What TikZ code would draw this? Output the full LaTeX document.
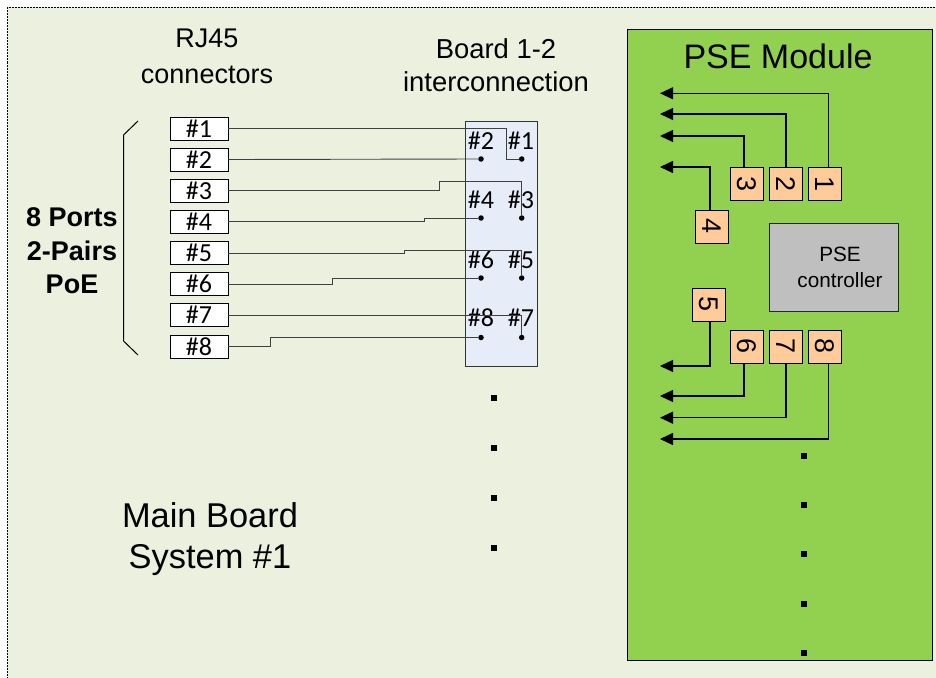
\documentclass[tikz,border=0pt]{standalone}
\usepackage{fontspec}
\setmainfont{Liberation Sans}
\newfontfamily\calfont{Carlito}
\usepackage{xcolor}
\usetikzlibrary{calc,arrows.meta}

\definecolor{mainbg}{HTML}{EBF1DE}
\definecolor{psegreen}{HTML}{92D050}
\definecolor{boardblue}{HTML}{E6ECF8}
\definecolor{pinorange}{HTML}{FFCC99}
\definecolor{ctrlgray}{HTML}{BFBFBF}

\tikzset{
	jack/.style={draw,fill=white,line width=0.9pt,minimum width=58pt,minimum height=23pt,inner sep=0pt,font=\calfont\fontsize{26}{26}\selectfont},
	pinlabel/.style={inner sep=0pt,font=\calfont\fontsize{26}{26}\selectfont},
	wire/.style={draw=black!75,line width=0.9pt},
	pad/.style={circle,fill=black,inner sep=0pt,minimum size=5.5pt},
	pin/.style={draw,fill=pinorange,line width=0.9pt,minimum size=33pt,inner sep=0pt,rotate=-90,font=\fontsize{27}{27}\selectfont},
	lead/.style={draw=black,line width=1.2pt,-{Triangle[length=13pt,width=12pt]}},
	ellipsisdot/.style={fill=black,inner sep=0pt,minimum size=6pt},
	title/.style={align=center,inner sep=0pt}
}

\begin{document}
\begin{tikzpicture}[x=1pt,y=-1pt]
		\useasboundingbox (0,0) rectangle (936,677);
		\clip (0,0) rectangle (936,677);
		\draw[fill=mainbg,draw=black,line width=1pt,dash pattern=on 2pt off 1pt] (7.5,7.5) rectangle (945,690);

		% connectors on the main board
		\foreach \i/\y in {1/128.5,2/159.5,3/190.5,4/221.7,5/253,6/284,7/315,8/346.5} {
			\node[jack] (j\i) at (199,\y) {\#\i};
		};
		\draw[line width=1pt] (138,121) coordinate (bt) -- (123.5,135) -- (123.5,341) -- (138,355) coordinate (bb);
		\node[title,font=\fontsize{27}{36}\selectfont] (rj) at (207,56) {RJ45\\connectors};
		\node[title,font=\bfseries\fontsize{27}{33.5}\selectfont] (poe) at (72,251) {8 Ports\\2-Pairs\\PoE};
		\node[title,font=\fontsize{34.4}{41}\selectfont] (main) at (210,539) {Main Board\\System \#1};

		% interconnection
		\node[draw=black!80,fill=boardblue,line width=0.9pt,minimum width=72pt,minimum height=245pt,inner sep=0pt] (board) at (501,243.5) {};
		\node[title,font=\fontsize{27.4}{33}\selectfont] (btitle) at (496,65.5) {Board 1-2\\interconnection};
		\foreach \i/\x/\y in {2/481/141,1/521/141,4/481/200,3/521/200,6/481/260,5/521/260,8/481/318,7/521/318} {
			\node[pinlabel] (l\i) at (\x,\y) {\#\i};
		};
		\foreach \i/\x/\y in {1/521.7/159,2/481/159,3/521.7/218,4/481/218,5/521.7/278,6/481/278,7/521.7/337.5,8/481/337.5} {
			\node[pad] (d\i) at (\x,\y) {};
		};
		\draw[wire] (j1.east) -| (506,159) -- (d1);
		\draw[wire] (j2.east) -- (d2);
		\draw[wire] (j3.east) -| (439,181.7) -| (d3);
		\draw[wire] (j4.east) -| (424,218) -- (d4);
		\draw[wire] (j5.east) -| (404.5,250) -| (d5);
		\draw[wire] (j6.east) -| (332,278) -- (d6);
		\draw[wire] (j7.east) -| (d7);
		\draw[wire] (j8.east) -| (270,337.5) -- (d8);
		\foreach \y in {398,448,498,548} {
			\node[ellipsisdot] (e\y) at (494,\y) {};
		};

		% PSE module
		\node[draw,fill=psegreen,line width=1pt,minimum width=305pt,minimum height=630pt,inner sep=0pt] (pse) at (779.5,345) {};
		\node[title,font=\fontsize{34}{34}\selectfont] (psetitle) at (778,56) {PSE Module};
		\node[draw=black!85,fill=ctrlgray,line width=0.9pt,minimum width=129pt,minimum height=88pt,inner sep=0pt] (ctrl) at (833.5,267) {};
		\node[title,font=\fontsize{20.7}{26}\selectfont] (ctrltext) at (840,267) {PSE\\controller};
		\foreach \i/\x/\y in {1/824.5/184,2/785.5/184,3/746.5/184,4/711.5/226.5,5/708.5/304.5,6/746.5/346.5,7/785.5/346.5,8/824.5/346.5} {
			\node[pin] (p\i) at (\x,\y) {\i};
		};
		\foreach \i/\y in {1/93.3,2/114,3/136,4/167,5/366,6/396,7/417.7,8/439} {
			\coordinate (t\i) at (660,\y);
		};
		\draw[lead] ([xshift=4pt]p1.west) |- (t1);
		\draw[lead] ([xshift=0.5pt]p2.west) |- (t2);
		\draw[lead] ([xshift=-2.5pt]p3.west) |- (t3);
		\draw[lead] ([xshift=-1.5pt]p4.west) |- (t4);
		\draw[lead] ([xshift=1.5pt]p5.east) |- (t5);
		\draw[lead] ([xshift=-2.5pt]p6.east) |- (t6);
		\draw[lead] ([xshift=0.5pt]p7.east) |- (t7);
		\draw[lead] ([xshift=4pt]p8.east) |- (t8);
		\foreach \y in {456,505,554,604,653} {
			\node[ellipsisdot] (f\y) at (804,\y) {};
		};
	\end{tikzpicture}
\end{document}
